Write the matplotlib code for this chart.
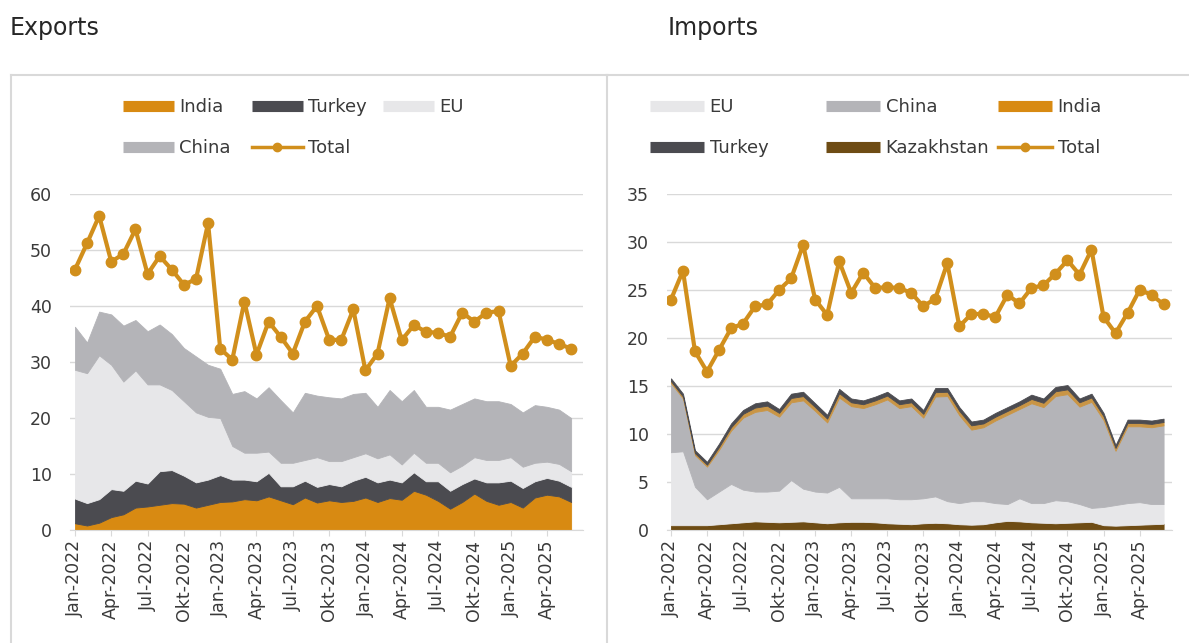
import matplotlib
matplotlib.use("Agg")
import matplotlib.pyplot as plt
from matplotlib.lines import Line2D
import numpy as np

plt.rcParams['font.family'] = ['DejaVu Sans']

# ---------------- data ----------------
months = ["Jan", "Feb", "Mar", "Apr", "Mai", "Jun", "Jul", "Aug", "Sep", "Okt", "Nov", "Dez"]
dates = [f"{months[i % 12]}-{2022 + i // 12}" for i in range(42)]
tick_idx = list(range(0, 42, 3))
tick_labels = [dates[i] for i in tick_idx]

# Exports (stack bottom -> top: India, Turkey, EU, China)
exp_india = [1.2, 0.8, 1.3, 2.3, 2.8, 4.0, 4.2, 4.5, 4.8, 4.7, 4.0, 4.5, 5.0, 5.1, 5.5, 5.3, 6.0, 5.3, 4.6, 5.8, 4.9,
             5.3, 5.0, 5.2, 5.8, 5.0, 5.7, 5.4, 7.0, 6.3, 5.2, 3.8, 5.0, 6.5, 5.2, 4.5, 5.0, 4.0, 5.8, 6.3, 6.0, 5.0]
exp_turkey = [4.4, 4.0, 4.2, 5.0, 4.2, 4.8, 4.1, 6.0, 5.9, 5.0, 4.5, 4.5, 4.8, 3.9, 3.5, 3.4, 4.2, 2.5, 3.2, 3.0, 2.8,
              2.9, 2.8, 3.6, 3.7, 3.5, 3.3, 3.1, 3.3, 2.4, 3.5, 3.2, 3.2, 2.7, 3.3, 4.0, 3.8, 3.5, 2.9, 3.0, 2.8, 2.7]
exp_eu = [23.0, 23.2, 25.7, 22.2, 19.5, 19.7, 17.7, 15.5, 14.3, 13.3, 12.5, 11.2, 10.2, 6.0, 4.8, 5.1, 3.8, 4.2, 4.2,
          3.7, 5.3, 4.1, 4.5, 4.2, 4.2, 4.3, 4.5, 3.2, 3.5, 3.3, 3.3, 3.3, 3.3, 3.8, 4.0, 4.0, 4.2, 3.8, 3.3, 2.9, 3.0, 2.8]
exp_china = [7.7, 5.5, 7.8, 9.0, 10.0, 9.0, 9.5, 10.7, 10.0, 9.5, 10.0, 9.3, 8.8, 9.3, 11.0, 9.7, 11.5, 11.2, 9.0,
             12.0, 11.0, 11.4, 11.2, 11.3, 10.8, 9.2, 11.5, 11.3, 11.2, 10.0, 10.0, 11.2, 11.0, 10.5, 10.5, 10.5, 9.5,
             9.7, 10.3, 9.8, 9.7, 9.5]
exp_total = [46.5, 51.2, 56.1, 47.9, 49.3, 53.7, 45.7, 48.9, 46.5, 43.8, 44.8, 54.8, 32.4, 30.4, 40.8, 31.3, 37.2,
             34.5, 31.5, 37.2, 40.0, 34.0, 33.9, 39.4, 28.5, 31.5, 41.4, 33.9, 36.6, 35.4, 35.2, 34.5, 38.8, 37.2,
             38.8, 39.1, 29.3, 31.5, 34.5, 34.0, 33.2, 32.4]

# Imports (stack bottom -> top: Kazakhstan, EU, China, India, Turkey)
imp_kazakhstan = [0.5, 0.5, 0.5, 0.5, 0.6, 0.7, 0.8, 0.9, 0.85, 0.8, 0.85, 0.9, 0.8, 0.7, 0.8, 0.85, 0.85, 0.8, 0.7,
                  0.65, 0.6, 0.7, 0.75, 0.7, 0.6, 0.55, 0.6, 0.8, 0.95, 0.9, 0.8, 0.75, 0.7, 0.75, 0.8, 0.85, 0.5,
                  0.45, 0.5, 0.55, 0.6, 0.65]
imp_eu = [7.6, 7.7, 4.0, 2.7, 3.4, 4.1, 3.4, 3.1, 3.15, 3.3, 4.35, 3.4, 3.2, 3.2, 3.7, 2.45, 2.45, 2.5, 2.6, 2.55,
          2.6, 2.6, 2.75, 2.3, 2.2, 2.45, 2.4, 2.0, 1.75, 2.4, 2.0, 2.05, 2.4, 2.25, 1.9, 1.45, 1.9, 2.15, 2.3, 2.35,
          2.1, 2.05]
imp_china = [7.2, 5.5, 3.3, 3.4, 4.35, 5.55, 7.5, 8.3, 8.5, 7.7, 8.1, 9.2, 8.4, 7.3, 9.3, 9.6, 9.4, 9.8, 10.3, 9.5,
             9.7, 8.4, 10.4, 10.95, 9.15, 7.45, 7.7, 8.6, 9.3, 9.3, 10.4, 10.0, 10.85, 11.15, 10.15, 11.05, 9.05,
             5.65, 8.0, 7.9, 8.0, 8.2]
imp_india = [0.2, 0.2, 0.2, 0.2, 0.3, 0.35, 0.4, 0.45, 0.45, 0.4, 0.45, 0.45, 0.4, 0.4, 0.45, 0.4, 0.4, 0.4, 0.4, 0.4,
             0.4, 0.4, 0.45, 0.45, 0.45, 0.45, 0.4, 0.4, 0.4, 0.4, 0.45, 0.45, 0.5, 0.5, 0.45, 0.45, 0.4, 0.3, 0.35,
             0.35, 0.35, 0.35]
imp_turkey = [0.3, 0.3, 0.3, 0.3, 0.35, 0.4, 0.4, 0.45, 0.45, 0.4, 0.45, 0.45, 0.4, 0.4, 0.45, 0.4, 0.4, 0.4, 0.4,
              0.4, 0.4, 0.4, 0.45, 0.4, 0.4, 0.4, 0.4, 0.4, 0.4, 0.4, 0.45, 0.45, 0.45, 0.45, 0.4, 0.4, 0.35, 0.3,
              0.35, 0.35, 0.35, 0.35]
imp_total = [24.0, 27.0, 18.6, 16.5, 18.75, 21.0, 21.5, 23.3, 23.5, 25.0, 26.2, 29.7, 24.0, 22.4, 28.0, 24.7, 26.8,
             25.2, 25.3, 25.2, 24.7, 23.3, 24.1, 27.8, 21.2, 22.5, 22.5, 22.2, 24.5, 23.6, 25.2, 25.5, 26.7, 28.1,
             26.6, 29.2, 22.2, 20.5, 22.6, 25.0, 24.5, 23.5]

# ---------------- styles ----------------
C_INDIA = "#D88A12"
C_INDIA_IMP = "#C99545"
C_TURKEY = "#4B4B50"
C_EU = "#E7E7E9"
C_CHINA = "#B4B4B8"
C_KAZ = "#6E4C14"
C_TOTAL = "#D18F1C"
C_GRID = "#D9D9D9"
C_TEXT = "#3A3A3A"
FS = 12.5

W, H = 1189, 643
fig = plt.figure(figsize=(W / 100, H / 100), dpi=100)
fig.patch.set_facecolor("white")


def fx(px):
    return px / W


def fy(py):
    return 1 - py / H


# panel frames
for (x0, y0, x1, y1) in [(11, 75, 607, 75), (11, 75, 11, 643), (607, 75, 607, 643), (607, 75, 1189, 75)]:
    fig.add_artist(Line2D([fx(x0), fx(x1)], [fy(y0), fy(y1)], color=C_GRID, lw=1.5, transform=fig.transFigure))

fig.text(fx(10), fy(28), "Exports", fontsize=17, color="#262626", ha="left", va="center")
fig.text(fx(668), fy(28), "Imports", fontsize=17, color="#262626", ha="left", va="center")


def style_axes(ax, ymax, ystep, xlim):
    ax.set_xlim(*xlim)
    ax.set_ylim(0, ymax)
    ax.set_yticks(np.arange(0, ymax + 0.01, ystep))
    ax.set_xticks(tick_idx)
    ax.set_xticklabels(tick_labels, rotation=90, fontsize=FS, color=C_TEXT)
    ax.tick_params(axis="y", length=0, pad=13, labelsize=FS, labelcolor=C_TEXT)
    ax.tick_params(axis="x", length=4, color=C_GRID, pad=3)
    for s in ["top", "right", "left"]:
        ax.spines[s].set_visible(False)
    ax.spines["bottom"].set_color(C_GRID)
    ax.yaxis.grid(True, color=C_GRID, lw=1)
    ax.set_axisbelow(True)
    ax.set_facecolor("none")


x = np.arange(42)

# ---------------- Exports ----------------
ax1 = fig.add_axes([fx(70), fy(530), fx(583 - 70), (530 - 194) / H])
ax1.stackplot(x, exp_india, exp_turkey, exp_eu, exp_china,
              colors=[C_INDIA, C_TURKEY, C_EU, C_CHINA], lw=0.6, edgecolor="face")
ax1.plot(x, exp_total, color=C_TOTAL, lw=3, marker="o", ms=7.5, mec=C_TOTAL, mfc=C_TOTAL, zorder=5)
style_axes(ax1, 60, 10, (-0.41, 41.98))

# ---------------- Imports ----------------
ax2 = fig.add_axes([fx(667), fy(530), fx(1172 - 667), (530 - 194) / H])
ax2.stackplot(x, imp_kazakhstan, imp_eu, imp_china, imp_india, imp_turkey,
              colors=[C_KAZ, C_EU, C_CHINA, C_INDIA_IMP, C_TURKEY], lw=0.6, edgecolor="face")
ax2.plot(x, imp_total, color=C_TOTAL, lw=3, marker="o", ms=7.5, mec=C_TOTAL, mfc=C_TOTAL, zorder=5)
style_axes(ax2, 35, 5, (-0.33, 41.7))


# ---------------- Legends (one per column) ----------------
def patch_handle(c, label):
    return Line2D([], [], color=c, lw=8, solid_capstyle="butt", label=label)


def total_handle():
    return Line2D([], [], color=C_TOTAL, lw=2.5, marker="o", ms=6, label="Total")


def column_legend(handles, xpx, hl):
    fig.legend(handles=handles, loc="upper left", bbox_to_anchor=(fx(xpx), fy(98)),
               frameon=False, fontsize=FS + 0.5, labelcolor=C_TEXT, borderpad=0, borderaxespad=0,
               handlelength=hl, handletextpad=0.3, labelspacing=1.3)


column_legend([patch_handle(C_INDIA, "India"), patch_handle(C_CHINA, "China")], 123, 2.8)
column_legend([patch_handle(C_TURKEY, "Turkey"), total_handle()], 252, 2.8)
column_legend([patch_handle(C_EU, "EU")], 383, 2.8)

column_legend([patch_handle(C_EU, "EU"), patch_handle(C_TURKEY, "Turkey")], 650, 3.0)
column_legend([patch_handle(C_CHINA, "China"), patch_handle(C_KAZ, "Kazakhstan")], 826, 3.0)
column_legend([patch_handle(C_INDIA, "India"), total_handle()], 998, 3.0)

fig.savefig("out.png", dpi=100, facecolor="white")
